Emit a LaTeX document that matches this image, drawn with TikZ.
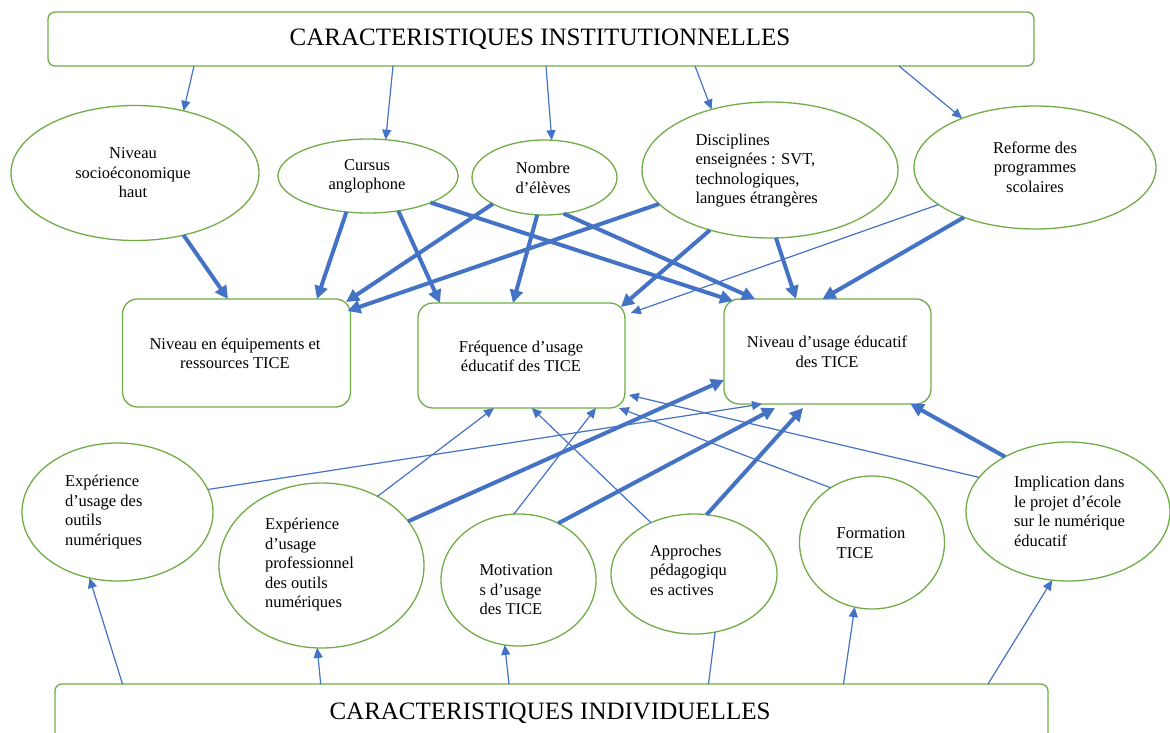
\documentclass[tikz,border=0pt]{standalone}
\usepackage{fontspec}
\setmainfont{Liberation Serif}
\usetikzlibrary{arrows.meta,shapes.geometric,calc}
\definecolor{grn}{HTML}{70AD47}
\definecolor{blu}{HTML}{4472C4}
\begin{document}
\begin{tikzpicture}[x=1pt,y=-1pt,
  ell/.style={ellipse,draw=grn,line width=1.3pt,inner sep=0pt,outer sep=0pt},
  rbox/.style={rectangle,rounded corners=15pt,draw=grn,line width=1.3pt,inner sep=0pt,outer sep=0pt},
  lbl/.style={font=\fontsize{16.5}{19.5}\selectfont,inner sep=0pt,outer sep=0pt},
  ttl/.style={font=\fontsize{25}{30}\selectfont,inner sep=0pt,anchor=base},
  tarr/.style={draw=blu,line width=1.2pt,-{Triangle[length=10pt,width=9pt]}},
  tline/.style={draw=blu,line width=1.2pt},
  karr/.style={draw=blu,line width=4pt,-{Triangle[length=13pt,width=13pt]}}]
\fill[white] (0,0) rectangle (1170,733);
\useasboundingbox (0,0) rectangle (1170,733);

% top box
\node[rbox,rounded corners=7pt,minimum width=986pt,minimum height=54pt] (T) at (541,39) {};
\node[ttl] (Tt) at (540,45.5) {CARACTERISTIQUES INSTITUTIONNELLES};
% bottom box
\node[rbox,rounded corners=7pt,minimum width=993pt,minimum height=90pt] (B) at (551.5,729) {};
\node[ttl] (Bt) at (550,719.5) {CARACTERISTIQUES INDIVIDUELLES};

% top ellipses
\node[ell,minimum width=248pt,minimum height=135pt] (s1) at (135,173) {};
\node[lbl,align=center] (s1t) at (133,173) {Niveau\\socioéconomique\\haut};
\node[ell,minimum width=180pt,minimum height=74pt] (s2) at (368,176) {};
\node[lbl,align=center] (s2t) at (367,176.5) {Cursus\\anglophone};
\node[ell,minimum width=145pt,minimum height=75pt] (s3) at (544.5,177.5) {};
\node[lbl,align=center] (s3t) at (543,178) {Nombre\\d’élèves};
\node[ell,minimum width=256pt,minimum height=136pt] (s4) at (770,170) {};
\node[lbl,align=left,anchor=west] (s4t) at (695.5,170.5) {Disciplines\\enseignées : SVT,\\technologiques,\\langues étrangères};
\node[ell,minimum width=242pt,minimum height=123pt] (s5) at (1035,167.5) {};
\node[lbl,align=center] (s5t) at (1035,167) {Reforme des\\programmes\\scolaires};

% middle boxes
\node[rbox,minimum width=228pt,minimum height=108pt] (bA) at (236.5,353) {};
\node[lbl,align=center] (bAt) at (235,353.5) {Niveau en équipements et\\ressources TICE};
\node[rbox,minimum width=207pt,minimum height=105pt] (bB) at (521.4,355.5) {};
\node[lbl,align=center] (bBt) at (521,356.5) {Fréquence d’usage\\éducatif des TICE};
\node[rbox,minimum width=207pt,minimum height=105pt] (bC) at (827.5,351.5) {};
\node[lbl,align=center] (bCt) at (827,352) {Niveau d’usage éducatif\\des TICE};

% bottom ellipses
\node[ell,minimum width=191pt,minimum height=138pt] (i1) at (117.5,512) {};
\node[lbl,align=left,anchor=west] (i1t) at (65,512) {Expérience\\d’usage des\\outils\\numériques};
\node[ell,minimum width=205pt,minimum height=165pt] (i2) at (321.5,565.5) {};
\node[lbl,align=left,anchor=west] (i2t) at (265,565) {Expérience\\d’usage\\professionnel\\des outils\\numériques};
\node[ell,minimum width=155pt,minimum height=132pt] (i3) at (518.5,580) {};
\node[lbl,align=left,anchor=west] (i3t) at (479.5,590) {Motivation\\s d’usage\\des TICE};
\node[ell,minimum width=166pt,minimum height=120pt] (i4) at (694,574) {};
\node[lbl,align=left,anchor=west] (i4t) at (650,570) {Approches\\pédagogiqu\\es actives};
\node[ell,minimum width=145pt,minimum height=133pt] (i5) at (872,542.5) {};
\node[lbl,align=left,anchor=west] (i5t) at (836.7,543) {Formation\\TICE};
\node[ell,minimum width=204pt,minimum height=139pt] (i6) at (1068,511.5) {};
\node[lbl,align=left,anchor=west] (i6t) at (1014,511.5) {Implication dans\\le projet d’école\\sur le numérique\\éducatif};

% top box -> top ellipses
\draw[tarr] ([xshift=-347pt]T.south) -- (s1.52.7);
\draw[tarr] ([xshift=-148pt]T.south) -- (s2.64);
\draw[tarr] ([xshift=5pt]T.south) -- (s3.79.5);
\draw[tarr] ([xshift=154pt]T.south) -- (s4.134.1);
\draw[tarr] ([xshift=358pt]T.south) -- (s5.146.6);

% top ellipses -> boxes
\draw[karr] (s1.-52.2) -- ($(bA.north)+(-8.5,0)$);
\draw[karr] (s2.-121.4) -- ($(bA.north)+(80.5,0)$);
\draw[karr] (s2.-49.4) -- ($(bB.north)+(-81.4,0)$);
\draw[karr] (s2.-23.5) -- ($(bC.north)+(-94.5,2)$);
\draw[karr] (s3.-62.5) -- ($(bC.north)+(-72.5,0)$);
\draw[karr] (s3.-153.8) -- ($(bA.north east)+(-4.5,3)$);
\draw[karr] (s3.-101.7) -- ($(bB.north)+(-8.4,0)$);
\draw[karr] (s4.-163.8) -- ($(bA.north east)+(-3,12)$);
\draw[karr] (s4.-135.9) -- ($(bB.north east)+(-4,4)$);
\draw[karr] (s4.-85.9) -- ($(bC.north)+(-31.5,0)$);
\draw[karr] (s5.-145.2) -- ($(bC.north)+(-5,0)$);
\draw[tarr] (s5.-159.3) -- ($(bB.north east)+(6,10)$);

% bottom ellipses -> boxes
\draw[tarr] (i1.14.5) -- ($(bC.south)+(-65.5,0)$);
\draw[tarr] (i2.51.6) -- ($(bB.south)+(-27.4,0)$);
\draw[tarr] (i3.94.8) -- ($(bB.south)+(74.6,0)$);
\draw[tarr] (i4.130.6) -- ($(bB.south)+(10.3,0)$);
\draw[tarr] (i5.127.6) -- ($(bB.south east)+(-6,0)$);
\draw[tarr] (i6.159.2) -- ($(bB.south east)+(4,-13)$);
\draw[karr] (i2.27.7) -- ($(bC.west)+(0,28.5)$);
\draw[karr] (i3.55.6) -- ($(bC.south)+(-52.5,4)$);
\draw[karr] (i4.78.0) -- ($(bC.south)+(-24.5,4)$);
\draw[karr] (i6.139.6) -- ($(bC.south)+(83,0)$);

% bottom box -> bottom ellipses
\draw[tarr] ([xshift=-429pt]B.north) -- (i1.-113.7);
\draw[tarr] ([xshift=-230.8pt]B.north) -- (i2.-93.9);
\draw[tarr] ([xshift=-42.5pt]B.north) -- (i3.-102.1);
\draw[tline] ([xshift=157pt]B.north) -- (i4.-70.4);
\draw[tarr] ([xshift=292pt]B.north) -- (i5.-105.1);
\draw[tarr] ([xshift=436.5pt]B.north) -- (i6.-103.6);
\end{tikzpicture}
\end{document}
